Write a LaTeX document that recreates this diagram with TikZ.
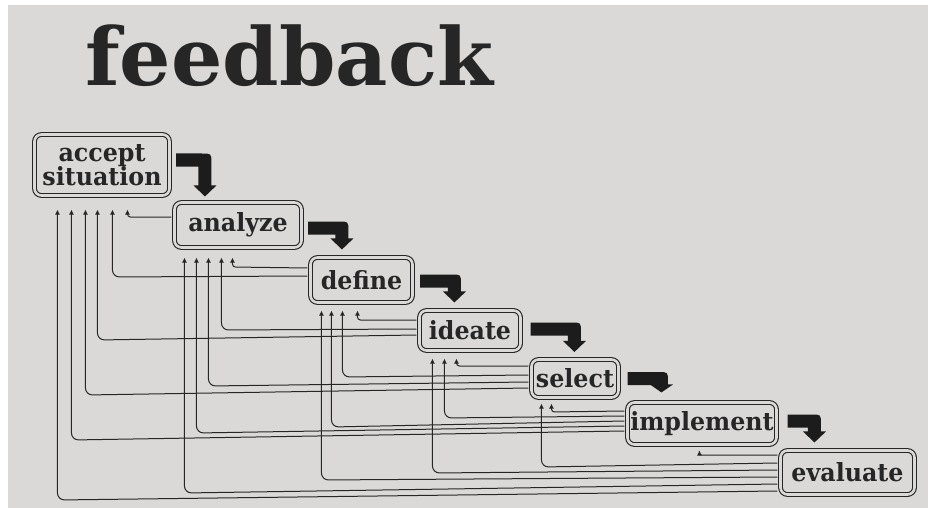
\documentclass[tikz,border=0pt]{standalone}
\usepackage{fontspec}
\setmainfont{DejaVu Serif}
\usetikzlibrary{arrows.meta,calc}
\definecolor{paper}{HTML}{DAD9D7}
\definecolor{ink}{HTML}{262626}
\definecolor{flowink}{HTML}{1C1C1C}
\newcommand\lbl[1]{\scalebox{0.95}[1]{#1}}
% feedback line: [radius]{from}{start dy}{corner dy}{to}{dx along target bottom}{tip gap}
\newcommand\fbk[7][7pt]{%
  \coordinate (s) at ($(#2.west)+(-2.6,#3)$);
  \coordinate (c) at ($(#2.west)+(0,#4)$);
  \coordinate (t) at ($(#5.south west)+(#6,#7)$);
  \draw[fbline=#1] (s) -- (t |- c) -- (t);}
% heavy bent arrow: {bar start}{tip}{head length}
\newcommand\flowarrow[3]{%
  \fill[flowink] let \p1=(#1), \p2=(#2) in
    (\x1,\y1+6.5pt) -- (\x2-3pt,\y1+6.5pt)
    .. controls (\x2+6.5pt,\y1+6.5pt) .. (\x2+6.5pt,\y1-3pt)
    -- (\x2+6.5pt,\y2+#3pt) -- (\x2+11.5pt,\y2+#3pt) -- (\x2,\y2)
    -- (\x2-11.5pt,\y2+#3pt) -- (\x2-6.5pt,\y2+#3pt)
    -- (\x2-6.5pt,\y1-6.5pt) -- (\x1,\y1-6.5pt) -- cycle;}
\begin{document}
\begin{tikzpicture}[x=1pt,y=-1pt,
  stage/.style={draw=ink, line width=1.1pt, double=paper, double distance=2.6pt,
    rounded corners=7pt, inner sep=0pt, text=ink,
    font=\fontsize{25}{27}\selectfont\bfseries},
  fbline/.style={draw=ink, line width=1pt, rounded corners=#1,
    -{Latex[length=5pt,width=5pt]}},
]
% paper
\fill[white] (0,0) rectangle (929,508);
\fill[paper] (8,5) rectangle (928,508);
\useasboundingbox (0,0) rectangle (929,508);

% title
\node[anchor=base west, inner sep=0pt, text=ink] (title) at (85,86)
  {\fontsize{80}{80}\selectfont\bfseries\scalebox{1.01}[1]{feedback}};

% stages
\node[stage, minimum width=135, minimum height=61, align=center] (A) at (102,165)
  {\lbl{accept}\\[-3pt]\lbl{situation}};
\node[stage, minimum width=127, minimum height=45] (B) at (238,225) {\lbl{analyze}};
\node[stage, minimum width=102, minimum height=45] (C) at (361.5,280) {\lbl{define}};
\node[stage, minimum width=101, minimum height=40] (D) at (470,330.5) {\lbl{ideate}};
\node[stage, minimum width=87, minimum height=38] (E) at (575,378.5) {\lbl{select}};
\node[stage, minimum width=149, minimum height=42] (F) at (702,423.5) {\lbl{implement}};
\node[stage, minimum width=134, minimum height=44] (G) at (847.5,472.5) {\lbl{evaluate}};

% forward flow
\flowarrow{$(A.east)+(6,-5)$}{$(B.north west)+(31,-5.5)$}{11}
\flowarrow{$(B.east)+(6,3)$}{$(C.north west)+(32,-7.5)$}{11}
\flowarrow{$(C.east)+(7,1)$}{$(D.north west)+(35.5,-7.5)$}{11}
\flowarrow{$(D.east)+(9.5,-1.5)$}{$(E.north west)+(43.5,-7)$}{11}
\flowarrow{$(E.east)+(8.5,0)$}{$(F.north west)+(34.5,-9.5)$}{8}
\flowarrow{$(F.east)+(10.5,-2.5)$}{$(G.north west)+(34.5,-7.5)$}{11}

% feedback to accept situation
\fbk[3pt]{B}{-8}{-8}{A}{93.5}{13.5}
\fbk{C}{-4}{-3}{A}{78.5}{13.5}
\fbk{D}{4.5}{9.5}{A}{63.5}{13.5}
\fbk{E}{9.5}{16.5}{A}{51.5}{13.5}
\fbk{F}{7.5}{16.5}{A}{37.5}{13.5}
\fbk{G}{18.5}{27.5}{A}{23.5}{13.5}
% feedback to analyze
\fbk[3pt]{C}{-12}{-13}{B}{58.5}{9.5}
\fbk{D}{-1.5}{-0.5}{B}{47.5}{9.5}
\fbk{E}{3.5}{7.5}{B}{34.5}{9.5}
\fbk{F}{2.5}{9.5}{B}{22.5}{9.5}
\fbk{G}{11.5}{20.5}{B}{10.5}{9.5}
% feedback to define
\fbk[3pt]{D}{-10.5}{-10.5}{C}{47.5}{7.5}
\fbk{E}{-3.5}{-1.5}{C}{32.5}{7.5}
\fbk{F}{-2.5}{3.5}{C}{21.5}{7.5}
\fbk{G}{4.5}{7.5}{C}{11.5}{7.5}
% feedback to ideate
\fbk[3pt]{E}{-12.5}{-12.5}{D}{37.5}{7.5}
\fbk{F}{-7.5}{-5.5}{D}{25.5}{7.5}
\fbk{G}{-2.5}{0.5}{D}{13.5}{7.5}
% feedback to select
\fbk[3pt]{F}{-12.5}{-11.5}{E}{20.5}{5.5}
\fbk{G}{-9.5}{-5.5}{E}{10.5}{5.5}
% feedback to implement
\fbk[2pt]{G}{-17.5}{-17.5}{F}{72.5}{5.5}
\end{tikzpicture}
\end{document}
